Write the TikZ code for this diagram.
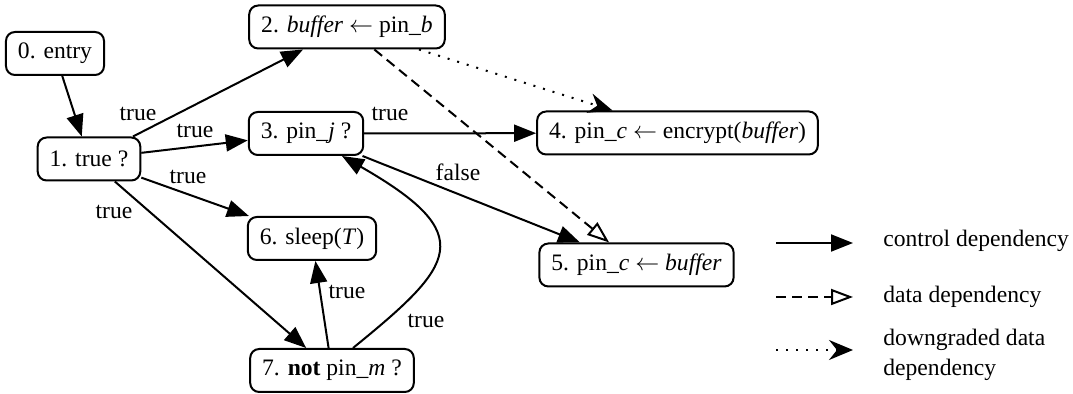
\documentclass[tikz,border=0pt]{standalone}
\usepackage{fontspec}
\setmainfont{Liberation Serif}
\usetikzlibrary{arrows.meta, calc}
\newcommand{\getsarrow}{\ensuremath{\leftarrow}}
\tikzset{
  stmt/.style = {
    draw, rounded corners=4.5pt, line width=1pt,
    minimum height=21.5pt, inner xsep=6pt, inner ysep=2pt,
    font=\fontsize{11.8}{14}\selectfont
  },
  lbl/.style  = {inner sep=0pt, font=\fontsize{11.8}{14}\selectfont},
  leg/.style  = {inner sep=0pt, anchor=west, align=left,
                 font=\fontsize{11.8}{15}\selectfont},
  ctrl/.style = {-{Triangle[length=11pt,width=8.5pt]}, line width=1pt},
  ddep/.style = {-{Triangle[open,length=11pt,width=8pt]}, line width=1pt,
                 dash pattern=on 5pt off 3pt},
  gdep/.style = {-{Stealth[length=12pt,width=10pt,inset=4pt]}, line width=1pt,
                 dash pattern=on 1pt off 4pt}
}

\begin{document}
\begin{tikzpicture}[x=0.5pt, y=-0.5pt]
  \useasboundingbox (0,0) rectangle (1073,394);

  %% Statements
  \node[stmt] (n0) at ( 55, 53.5) {0. entry};
  \node[stmt] (n1) at ( 89,159)   {1. true ?};
  \node[stmt] (n2) at (347, 27)   {2. \textit{buffer} \getsarrow{} pin\_\textit{b}};
  \node[stmt] (n3) at (306,133.5) {3. pin\_\textit{j} ?};
  \node[stmt] (n4) at (677.5,133) {4. pin\_\textit{c} \getsarrow{} encrypt(\textit{buffer})};
  \node[stmt] (n5) at (636.5,265) {5. pin\_\textit{c} \getsarrow{} \textit{buffer}};
  \node[stmt] (n6) at (312,238.5) {6. sleep(\textit{T})};
  \node[stmt] (n7) at (332,370.5) {7. \textbf{not} pin\_\textit{m} ?};

  %% Control flow
  \draw[ctrl] (n0) -- (n1);
  \draw[ctrl] (n1) -- (n2) node[lbl] at (138,114) {true};
  \draw[ctrl] (n1) -- (n3) node[lbl] at (195,131) {true};
  \draw[ctrl] (n1) -- (n6) node[lbl] at (188,177) {true};
  \draw[ctrl] (n1) -- (n7) node[lbl] at (114,212) {true};
  \draw[ctrl] (n3) -- (n4) node[lbl] at (390,114) {true};
  \draw[ctrl] (n3) -- (n5) node[lbl] at (458,172) {false};
  \draw[ctrl] (n7) -- (n6) node[lbl] at (347,292) {true};
  \draw[ctrl] ($(n7.north)+(21,0)$) .. controls (455,265) and (480,235)
              .. ($(n3.south)+(36,0)$) node[lbl] at (426,321) {true};

  %% Data flow
  \draw[ddep] (n2) -- (n5);
  \draw[gdep] ($(n2.south)+(72,0)$) -- ($(n4.north)+(-65,0)$);

  %% Legend
  \coordinate (la) at (776,243);  \coordinate (lb) at (853,243);
  \coordinate (lc) at (776,297);  \coordinate (ld) at (853,297);
  \coordinate (le) at (776,350);  \coordinate (lf) at (853,350);
  \draw[ctrl] (la) -- (lb);
  \draw[ddep] (lc) -- (ld);
  \draw[gdep] (le) -- (lf);
  \node[leg] (t1) at (883,241) {control dependency};
  \node[leg] (t2) at (883,297) {data dependency};
  \node[leg] (t3) at (883,355) {downgraded data\\dependency};
\end{tikzpicture}
\end{document}
